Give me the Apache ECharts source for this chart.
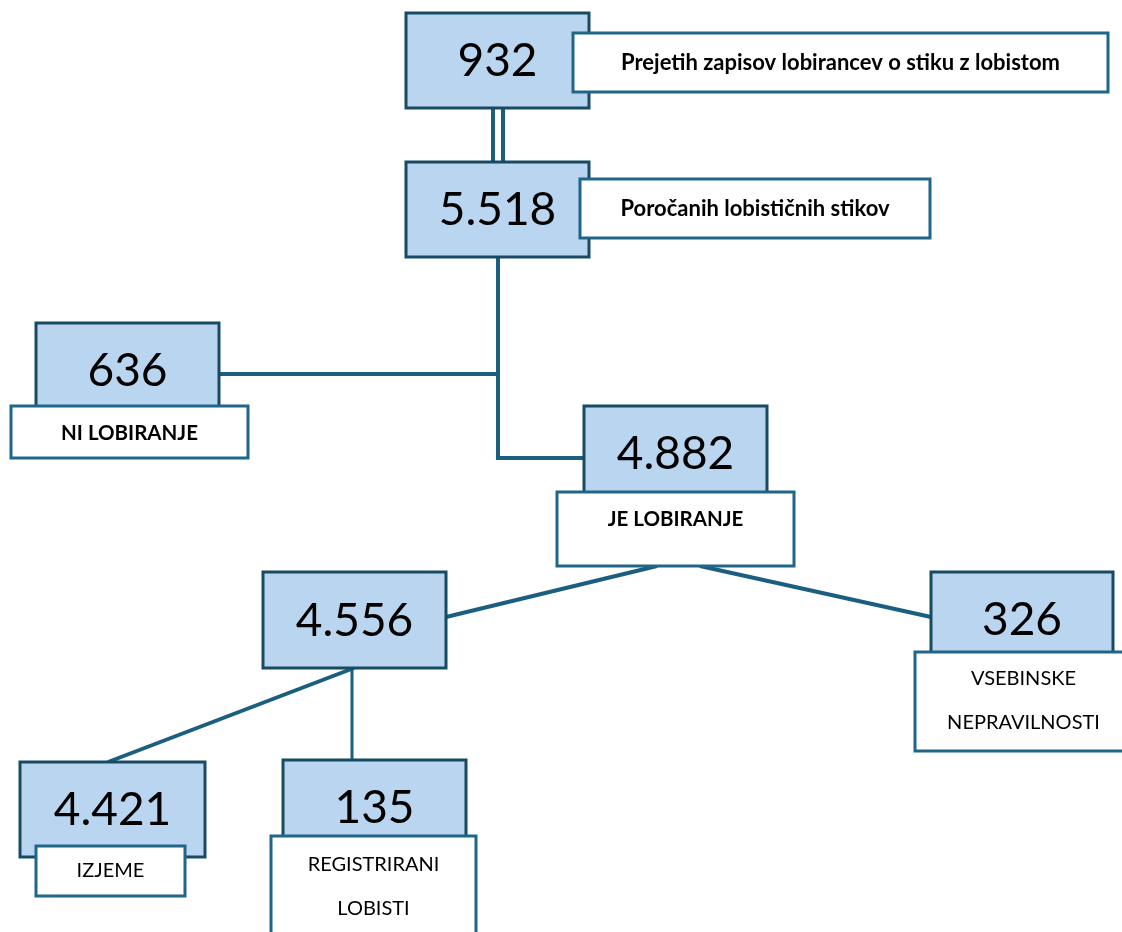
<!DOCTYPE html>
<html><head><meta charset="utf-8">
<script src="https://cdn.jsdelivr.net/npm/echarts@6/dist/echarts.min.js"></script>
<style>html,body{margin:0;padding:0;background:#fff;overflow:hidden}#c{width:1122px;height:932px}</style>
</head><body><div id="c"></div>
<script>
// ---- data ----
const counts = [932, 5518, 636, 4882, 4556, 326, 4421, 135];
const captions = [
  'Prejetih zapisov lobirancev o stiku z lobistom',
  'Poročanih lobističnih stikov',
  'NI LOBIRANJE',
  'JE LOBIRANJE',
  '',
  'VSEBINSKE\nNEPRAVILNOSTI',
  'IZJEME',
  'REGISTRIRANI\nLOBISTI'
];
const captionBold = [true, true, true, true, false, false, false, false];
// parent -> child links (indices into counts)
const links = [[0, 1], [1, 2], [1, 3], [3, 4], [3, 5], [4, 6], [4, 7]];

// ---- layout (pixel space of a 1122 x 932 canvas) ----
// number boxes: [left, top, right, bottom]
const numBox = [
  [406, 13, 589, 108], [406, 162, 589, 257], [36, 323, 219, 418], [584, 406, 767, 500],
  [263, 572, 446, 668], [931, 572, 1113, 667], [20, 762, 205, 857], [283, 760, 466, 855]
];
// caption boxes
const capBox = [
  [573, 33, 1108, 92], [580, 179, 930, 238], [11, 406, 248, 458], [557, 492, 794, 566],
  null, [915, 652, 1132, 751], [36, 846, 185, 896], [271, 836, 476, 940]
];
const capTextY = [63, 209, 433, 519, null, 700.5, 871, 886.5];
const capFont = [22, 22, 20.5, 20.5, 0, 20, 20, 20];
// connector routes for each link (polyline points)
const routes = [
  [[[493, 108], [493, 162]], [[503, 108], [503, 162]]],
  [[[498, 257], [498, 374], [219, 374]]],
  [[[498, 370], [498, 458], [584, 458]]],
  [[[657, 566], [446, 617]]],
  [[[700, 566], [931, 617]]],
  [[[354, 668], [108, 762]]],
  [[[352, 668], [352, 760]]]
];
const routeWidth = [4, 4, 4, 4, 4, 4, 3];

const LINE = '#1b5f80', FILL = '#bad5ef', DARK = '#174a63', CAPB = '#1f6689';
const fmt = v => String(v).replace(/\B(?=(\d{3})+(?!\d))/g, '.');

const numData = counts.map((v, i) => numBox[i].concat([v]));
const capData = [];
captions.forEach((t, i) => {
  if (!capBox[i]) return;
  capData.push(capBox[i].concat([i]));
});
const lineData = [];
links.forEach((l, k) => routes[k].forEach(r => lineData.push({
  coords: r, lineStyle: { width: routeWidth[k] }
})));

function boxItem(api, fill, stroke) {
  const p1 = api.coord([api.value(0), api.value(1)]);
  const p2 = api.coord([api.value(2), api.value(3)]);
  return {
    rect: { type: 'rect', shape: { x: p1[0], y: p1[1], width: p2[0] - p1[0], height: p2[1] - p1[1] },
      style: { fill: fill, stroke: stroke, lineWidth: 3 } },
    p1, p2
  };
}

const chart = echarts.init(document.getElementById('c'), null, { renderer: 'canvas' });
chart.setOption({
  animation: false,
  backgroundColor: '#fff',
  grid: { left: 0, right: 0, top: 0, bottom: 0 },
  xAxis: { type: 'value', min: 0, max: 1122, show: false },
  yAxis: { type: 'value', min: 0, max: 932, inverse: true, show: false },
  series: [
    {
      type: 'lines', coordinateSystem: 'cartesian2d', polyline: true, z: 1,
      silent: true,
      lineStyle: { color: LINE, width: 4, opacity: 1, curveness: 0, cap: 'butt', join: 'miter' },
      data: lineData
    },
    {
      type: 'custom', z: 2, silent: true, clip: false,
      renderItem: (params, api) => {
        const b = boxItem(api, FILL, DARK);
        return { type: 'group', children: [b.rect, {
          type: 'text',
          style: { text: fmt(api.value(4)), x: (b.p1[0] + b.p2[0]) / 2, y: (b.p1[1] + b.p2[1]) / 2 + 1,
            align: 'center', verticalAlign: 'middle', fill: '#000',
            font: '46px Lato' }
        }] };
      },
      encode: { x: [0, 2], y: [1, 3] },
      data: numData
    },
    {
      type: 'custom', z: 3, silent: true, clip: false,
      renderItem: (params, api) => {
        const b = boxItem(api, '#fff', CAPB);
        const i = api.value(4);
        const ty = api.coord([0, capTextY[i]])[1];
        return { type: 'group', children: [b.rect, {
          type: 'text',
          style: { text: captions[i], x: (b.p1[0] + b.p2[0]) / 2, y: ty,
            align: 'center', verticalAlign: 'middle', fill: '#000', lineHeight: 44,
            font: (captionBold[i] ? 'bold ' : '') + capFont[i] + 'px Lato' }
        }] };
      },
      encode: { x: [0, 2], y: [1, 3] },
      data: capData
    }
  ]
});
</script></body></html>
